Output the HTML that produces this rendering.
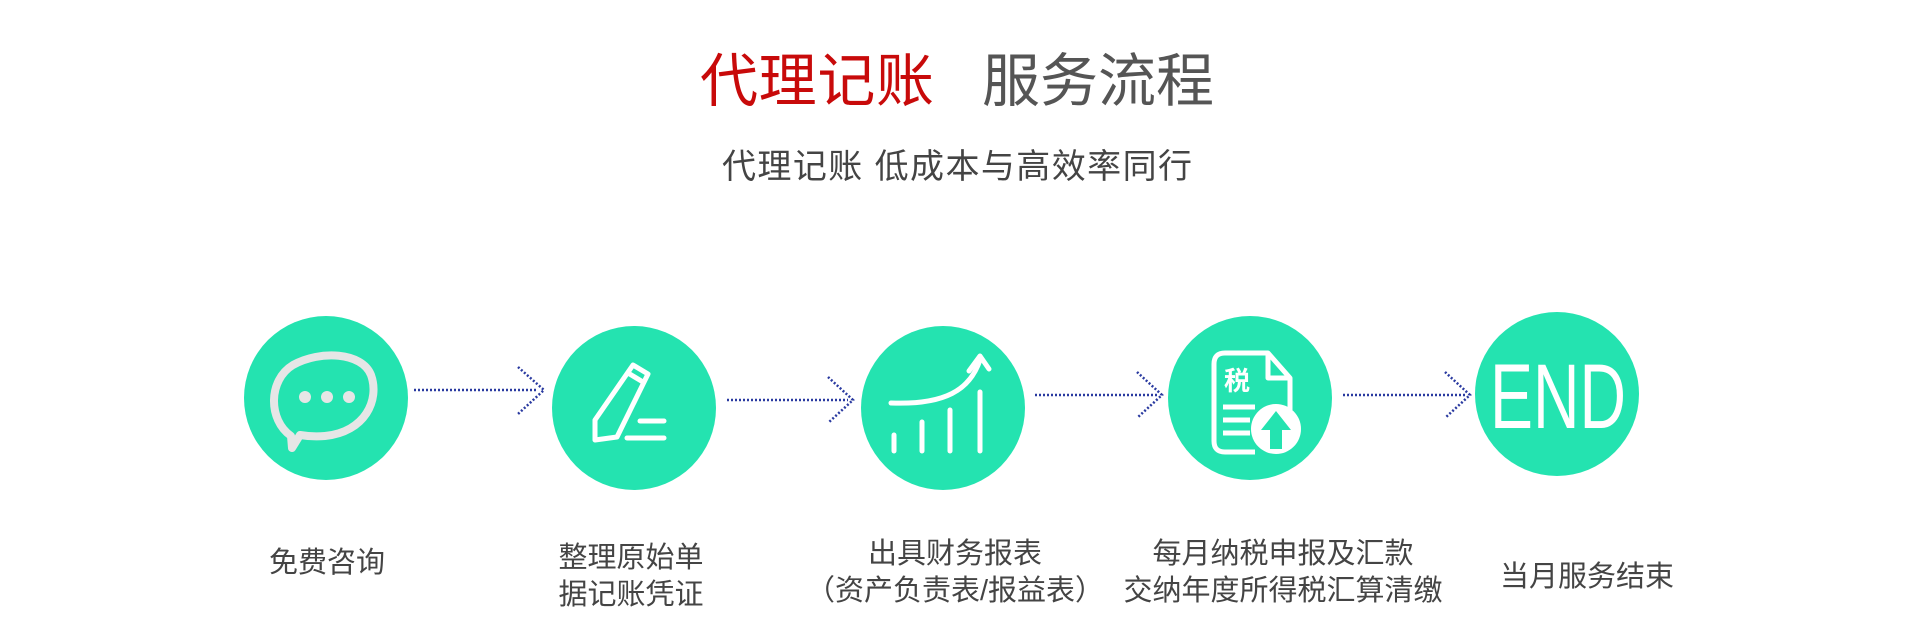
<!DOCTYPE html>
<html><head><meta charset="utf-8"><style>
html,body{margin:0;padding:0;background:#fff;width:1920px;height:641px;overflow:hidden}
svg{display:block}
text{font-family:"Liberation Sans","Noto Sans CJK SC",sans-serif}
</style></head><body>
<svg width="1920" height="641" viewBox="0 0 1920 641" xmlns="http://www.w3.org/2000/svg">
<text x="700" y="101" font-size="58" fill="#c80a0a" textLength="234">代理记账</text>
<text x="982" y="101" font-size="58" fill="#555" textLength="232">服务流程</text>
<text x="722" y="178" font-size="34" fill="#444" textLength="470">代理记账 低成本与高效率同行</text>

<g fill="#24e3b0">
<circle cx="326" cy="398" r="82"/>
<circle cx="634" cy="408" r="82"/>
<circle cx="943" cy="408" r="82"/>
<circle cx="1250" cy="398" r="82"/>
<circle cx="1557" cy="394" r="82"/>
</g>

<g stroke="#2a3aa0" fill="none" stroke-width="2.5">
<line x1="414" y1="390" x2="538" y2="390" stroke-dasharray="2 2"/>
<polyline points="518,367 544,390 518,414" stroke-dasharray="2 2"/>
<line x1="727" y1="400" x2="848" y2="400" stroke-dasharray="2 2"/>
<polyline points="828,377 853,400 828,423" stroke-dasharray="2 2"/>
<line x1="1035" y1="395" x2="1157" y2="395" stroke-dasharray="2 2"/>
<polyline points="1137,372 1162,395 1137,418" stroke-dasharray="2 2"/>
<line x1="1343" y1="395" x2="1465" y2="395" stroke-dasharray="2 2"/>
<polyline points="1445,372 1470,395 1445,418" stroke-dasharray="2 2"/>
</g>

<g stroke="#e6e6e6" stroke-width="8" fill="none" stroke-linejoin="round">
<path d="M291,436 C268,420 268,380 293,365 C320,350 362,352 371,375 C380,400 365,432 325,436 C313,437 306,436 300,435 L292,448 Z"/>
</g>
<g fill="#e6e6e6"><circle cx="305" cy="397" r="6"/><circle cx="327" cy="397" r="6"/><circle cx="349" cy="397" r="6"/></g>

<g stroke="#fff" stroke-width="5" fill="none" stroke-linejoin="round" stroke-linecap="round">
<path d="M595,440 L595,420 L633,365 L648,374 L617,437 Z"/>
<line x1="628" y1="373" x2="643" y2="382"/>
<line x1="640" y1="421" x2="664" y2="421"/>
<line x1="627" y1="438" x2="664" y2="438"/>
</g>

<g stroke="#fff" stroke-width="5" fill="none" stroke-linecap="round" stroke-linejoin="round">
<path d="M891,403 C945,405 970,390 980,360"/>
<polyline points="969,371 980,356 989,369"/>
<line x1="894" y1="435" x2="894" y2="451"/>
<line x1="922" y1="422" x2="922" y2="451"/>
<line x1="950" y1="410" x2="950" y2="451"/>
<line x1="980" y1="392" x2="980" y2="451"/>
</g>

<g stroke="#fff" stroke-width="5" fill="none" stroke-linejoin="round">
<path d="M1225,353 L1268,353 L1290,378 L1290,410 M1255,452 L1225,452 Q1214,452 1214,441 L1214,364 Q1214,353 1225,353"/>
<path d="M1268,355 L1268,378 L1288,378"/>
</g>
<text x="1224" y="390" font-size="26" font-weight="bold" fill="#fff">税</text>
<g stroke="#fff" stroke-width="5"><line x1="1223" y1="407" x2="1255" y2="407"/><line x1="1223" y1="420" x2="1250" y2="420"/><line x1="1223" y1="433" x2="1250" y2="433"/></g>
<circle cx="1276" cy="429" r="25" fill="#fff"/>
<polygon points="1276,411 1261,430 1270,430 1270,449 1282,449 1282,430 1291,430" fill="#24e3b0"/>

<text x="1558" y="428" font-size="92" fill="#fff" text-anchor="middle" textLength="136" lengthAdjust="spacingAndGlyphs">END</text>

<g font-size="29" fill="#444" text-anchor="middle">
<text x="327" y="572">免费咨询</text>
<text x="631" y="567">整理原始单</text>
<text x="631" y="604">据记账凭证</text>
<text x="955" y="563">出具财务报表</text>
<text x="955" y="600">（资产负责表/报益表）</text>
<text x="1283" y="563">每月纳税申报及汇款</text>
<text x="1283" y="600">交纳年度所得税汇算清缴</text>
<text x="1587" y="586">当月服务结束</text>
</g>
</svg>
</body></html>
